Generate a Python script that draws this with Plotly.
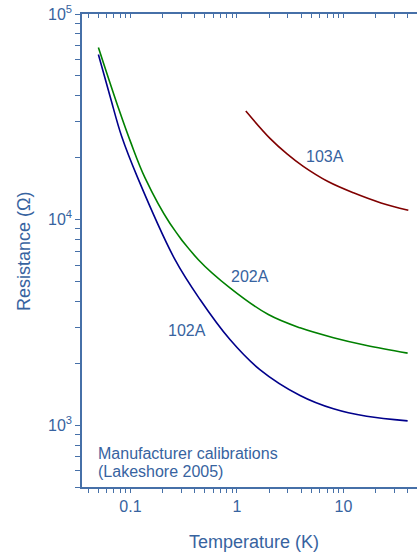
import numpy as np
import plotly.graph_objects as go

# Manufacturer calibration curves, resistance (ohm) vs temperature (K)
temp_102A = [0.050, 0.0643, 0.0826, 0.117, 0.262, 0.450, 0.859, 1.64, 3.91, 8.05, 16.5, 40.0]
res_102A = [63500, 39800, 25400, 15950, 6380, 4083, 2607, 1862, 1393, 1200, 1104, 1049]

temp_202A = [0.050, 0.078, 0.101, 0.137, 0.235, 0.434, 0.859, 1.97, 3.91, 8.05, 16.5, 40.0]
res_202A = [68800, 34300, 23600, 15950, 9570, 6380, 4654, 3450, 2973, 2662, 2440, 2240]

temp_103A = [1.21, 2.04, 2.95, 4.19, 7.15, 12.4, 22.5, 40.6]
res_103A = [33700, 24830, 20870, 18150, 15310, 13490, 12050, 11100]

# Tick positions and labels
x_major = [0.1, 1, 10]
x_major_text = ["0.1", "1", "10"]
y_major = [1e3, 1e4, 1e5]
y_major_text = ["10<sup>3</sup>", "10<sup>4</sup>", "10<sup>5</sup>"]

# Curve label text and anchor points (T, R)
curve_labels = ["102A", "202A", "103A"]
label_temp = [0.337, 1.324, 6.75]
label_res = [2900, 5300, 20300]

note_lines = ["Manufacturer calibrations", "(Lakeshore 2005)"]

TEXT = "#3763a0"
AXIS = "#4670a8"
FONT = "Liberation Sans, Arial, sans-serif"

# figure geometry (pixels)
W, H = 417, 556
L, R, T, B = 82, 0, 14, 69
PW, PH = W - L - R, H - T - B


def px_to_paper(px, py):
    """Convert figure pixel position to plot-area paper coordinates."""
    return (px - L) / PW, (H - B - py) / PH


x_ticks = [m * 10.0 ** e for e in (-2, -1, 0, 1) for m in range(1, 10)]
x_ticks = [v for v in x_ticks if 0.035 <= v <= 49]
x_text = []
for v in x_ticks:
    lab = ""
    for m, t in zip(x_major, x_major_text):
        if abs(v - m) < 1e-9 * max(1, m):
            lab = t
    x_text.append(lab)

y_ticks = [m * 10.0 ** e for e in (2, 3, 4) for m in range(1, 10)] + [1e5]
y_ticks = [v for v in y_ticks if 500 <= v <= 1e5]
y_text = []
for v in y_ticks:
    lab = ""
    for m, t in zip(y_major, y_major_text):
        if abs(v - m) < 1e-6 * m:
            lab = t
    y_text.append(lab)

fig = go.Figure()
for xs, ys, col in ((temp_102A, res_102A, "#00008b"),
                    (temp_202A, res_202A, "#008000"),
                    (temp_103A, res_103A, "#800000")):
    fig.add_trace(go.Scatter(x=xs, y=ys, mode="lines",
                             line=dict(color=col, width=1.6, shape="spline", smoothing=1.0),
                             showlegend=False, hoverinfo="skip"))
# invisible trace so the mirrored top axis is drawn
fig.add_trace(go.Scatter(x=[1], y=[1e4], xaxis="x2", mode="markers",
                         marker=dict(opacity=0), showlegend=False, hoverinfo="skip"))

x_range = [-1.455, 1.690]
y_range = [np.log10(500), 5]

fig.update_layout(
    width=W, height=H,
    margin=dict(l=L, r=R, t=T, b=B),
    paper_bgcolor="white", plot_bgcolor="white",
    font=dict(family=FONT, color=TEXT, size=16),
    xaxis=dict(type="log", range=x_range, showgrid=False, zeroline=False,
               showline=True, linecolor=AXIS, linewidth=1.5,
               ticks="outside", ticklen=4, tickwidth=1.2, tickcolor=AXIS,
               tickvals=x_ticks, ticktext=x_text,
               tickfont=dict(size=16, color=TEXT, family=FONT)),
    xaxis2=dict(type="log", range=x_range, overlaying="x", side="top", anchor="y",
                showgrid=False, zeroline=False,
                showline=True, linecolor=AXIS, linewidth=1.5,
                ticks="inside", ticklen=4, tickwidth=1.2, tickcolor=AXIS,
                tickvals=x_ticks, showticklabels=False),
    yaxis=dict(type="log", range=y_range, showgrid=False, zeroline=False,
               showline=True, linecolor=AXIS, linewidth=1.5,
               ticks="outside", ticklen=5, tickwidth=1.2, tickcolor=AXIS,
               tickvals=y_ticks, ticktext=y_text,
               tickfont=dict(size=16, color=TEXT, family=FONT)),
)

annotations = []
for name, t, r in zip(curve_labels, label_temp, label_res):
    annotations.append(dict(x=np.log10(t), y=np.log10(r), xref="x", yref="y",
                            text=name, showarrow=False,
                            font=dict(size=16, color=TEXT, family=FONT)))

for i, line in enumerate(note_lines):
    nx, ny = px_to_paper(96, 453 + 18 * i)
    annotations.append(dict(x=nx, xref="paper", xanchor="left",
                            y=ny, yref="paper", yanchor="middle",
                            text=line, showarrow=False,
                            font=dict(size=16, color=TEXT, family=FONT)))

# axis titles
tx, ty = px_to_paper(254, 542)
annotations.append(dict(x=tx, xref="paper", y=ty, yref="paper",
                        xanchor="center", yanchor="middle", text="Temperature (K)",
                        showarrow=False, font=dict(size=18, color=TEXT, family=FONT)))
rx, ry = px_to_paper(24, 251)
annotations.append(dict(x=rx, xref="paper", y=ry, yref="paper",
                        xanchor="center", yanchor="middle", text="Resistance (Ω)",
                        textangle=-90, showarrow=False,
                        font=dict(size=18, color=TEXT, family=FONT)))

fig.update_layout(annotations=annotations)
fig.write_html("out.html")
